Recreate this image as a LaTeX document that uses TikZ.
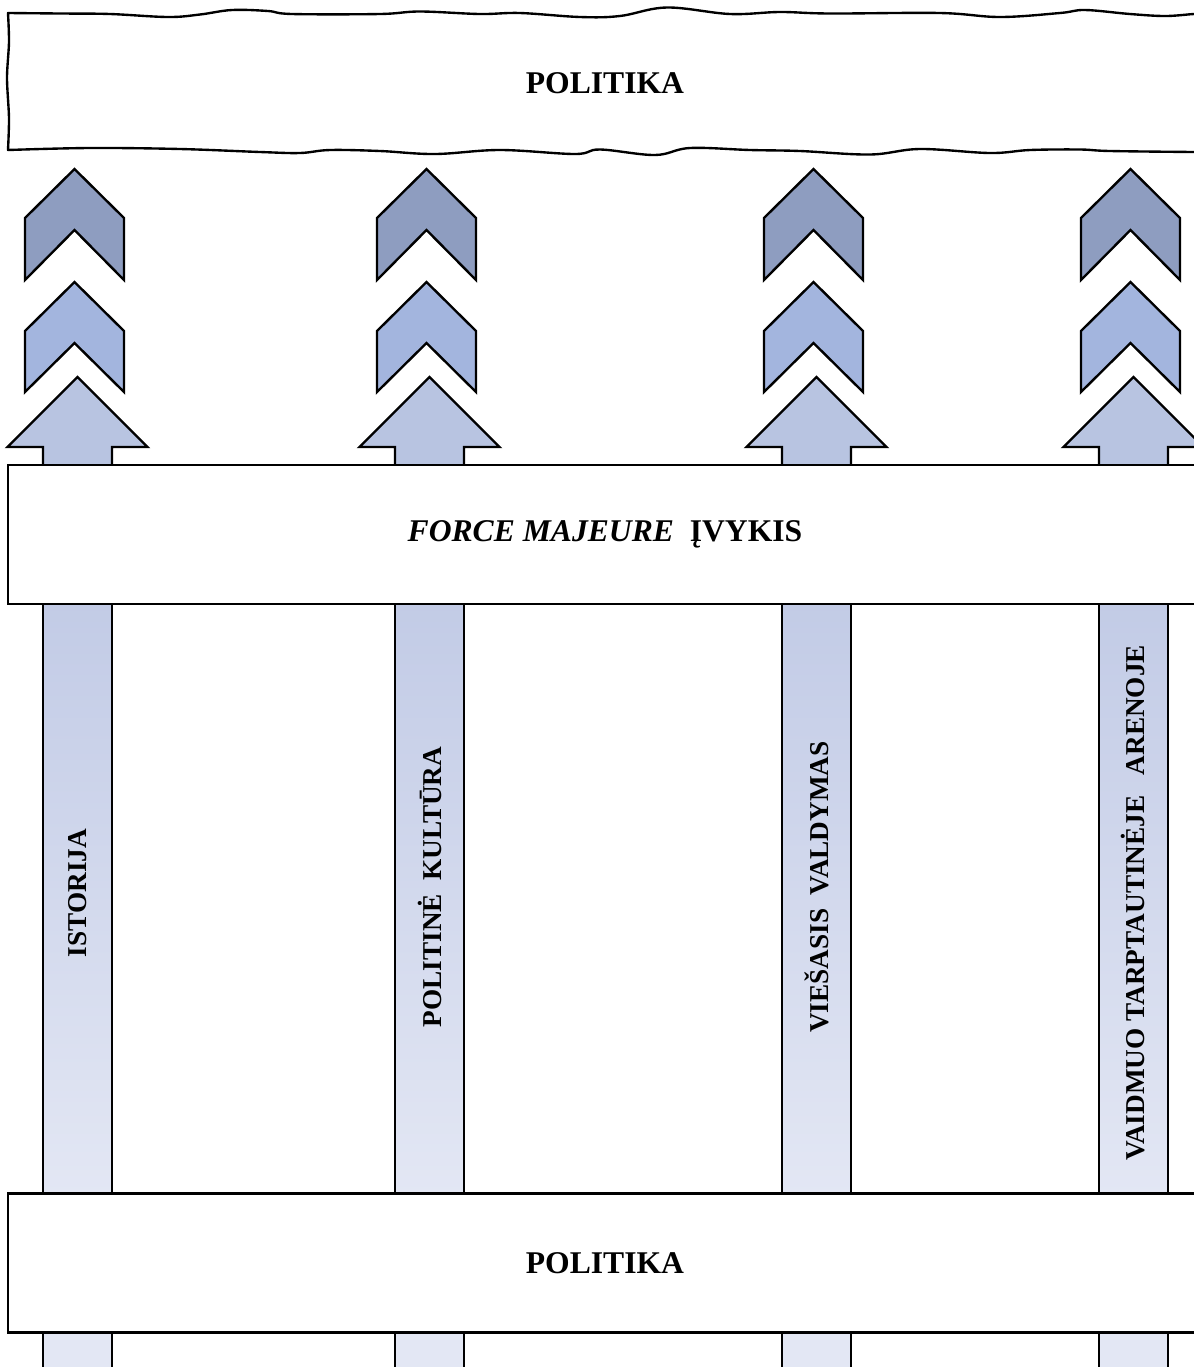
\documentclass[tikz,border=0pt]{standalone}
\usepackage{fontspec}
\setmainfont{Liberation Serif}
\definecolor{chevdark}{HTML}{8E9DC0}
\definecolor{chevmid}{HTML}{A3B5DE}
\definecolor{arrowblue}{HTML}{B8C4E1}
\definecolor{pillartop}{HTML}{C2CBE6}
\definecolor{pillarbot}{HTML}{E3E7F4}
\tikzset{
  edge/.style={draw=black, line width=1.35pt, line join=miter},
  bandbox/.style={edge, fill=white, minimum width=23.88cm, minimum height=2.78cm,
    font=\fontsize{18}{20}\selectfont\bfseries},
  pillarlabel/.style={rotate=90, font=\fontsize{15.5}{17}\selectfont\bfseries}
}
\begin{document}
\begin{tikzpicture}[x=0.02cm,y=-0.02cm]
\useasboundingbox (0,0) rectangle (1194,1367);
\clip (0,0) rectangle (1194,1367);

% pillars, chevrons and arrows
\foreach \c/\ly/\lbl [count=\i] in {77.5/893/ISTORIJA, 429.5/887/POLITINĖ\ \ KULTŪRA,
    816.5/887/VIEŠASIS\ \ VALDYMAS, 1133.5/903/VAIDMUO\ TARPTAUTINĖJE\ \ \ ARENOJE}{
  \draw[edge, top color=pillartop, bottom color=pillarbot] (\c-34.5,600) rectangle (\c+34.5,1197);
  \draw[edge, fill=pillarbot] (\c-34.5,1330) rectangle (\c+34.5,1380);
  \draw[edge, fill=arrowblue] (\c,377) -- (\c+70,447) -- (\c+34.5,447) -- (\c+34.5,470)
    -- (\c-34.5,470) -- (\c-34.5,447) -- (\c-70,447) -- cycle;
  \draw[edge, fill=chevdark] (\c-3,169) -- (\c+46.5,218) -- (\c+46.5,280) -- (\c-3,230)
    -- (\c-52.5,280) -- (\c-52.5,218) -- cycle;
  \draw[edge, fill=chevmid] (\c-3,282) -- (\c+46.5,331) -- (\c+46.5,392) -- (\c-3,343)
    -- (\c-52.5,392) -- (\c-52.5,331) -- cycle;
  \node[pillarlabel] (lbl\i) at (\c,\ly) {\lbl};
}

% wavy top band
\draw[edge, fill=white, line join=round]
  plot[smooth, tension=0.5] coordinates {(8,150) (9,118) (7,78) (9,42) (8,13)}
  -- plot[smooth, tension=0.6] coordinates {(8,13) (60,13.5) (110,14) (168,17) (200,14.5)
    (232,10) (268,11) (292,14) (380,14) (420,11.5) (480,14) (520,13) (580,17) (620,16)
    (667,7.5) (730,14) (780,12) (830,13.5) (940,13) (1000,17) (1060,13) (1085,10)
    (1130,14) (1165,16) (1194,14) (1215,13)}
  -- (1215,152)
  -- plot[smooth, tension=0.6] coordinates {(1215,152) (1194,152) (1110,151) (1080,149.5)
    (1030,150) (990,153) (920,149) (870,154.5) (800,151) (750,150) (690,148) (655,155)
    (600,149.5) (575,154) (500,150) (435,154) (380,151) (330,150) (300,153) (260,152)
    (180,149) (90,148) (8,150)}
  -- cycle;
\node[font=\fontsize{18}{20}\selectfont\bfseries] (politikatop) at (605,83) {POLITIKA};

% bands
\node[bandbox] (majeure) at (605,534.5) {\textit{FORCE MAJEURE}\ \ ĮVYKIS};
\node[bandbox] (politikabot) at (605,1263) {POLITIKA};
\end{tikzpicture}
\end{document}
